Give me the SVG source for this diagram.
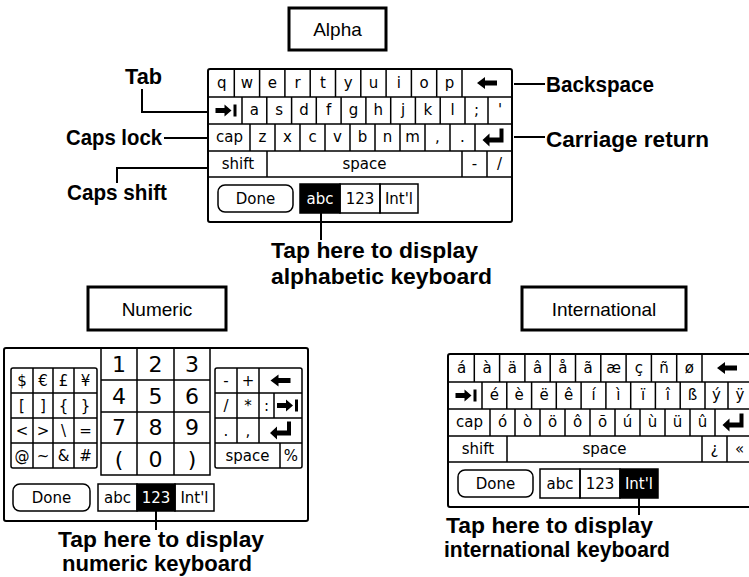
<svg xmlns="http://www.w3.org/2000/svg" width="749" height="577" viewBox="0 0 749 577">
<style>
.bg{fill:#fff}
.frame{fill:#fff;stroke:#000;stroke-width:2}
.k{fill:none;stroke:#000;stroke-width:1.5}
.box{fill:#fff;stroke:#000;stroke-width:3}
.t{font-family:"DejaVu Sans",sans-serif;font-size:15px;text-anchor:middle;fill:#000}
.d{font-family:"DejaVu Sans",sans-serif;font-size:22px;text-anchor:middle;fill:#000}
.w{fill:#fff}
.lb{font-family:"Liberation Sans",Arial,sans-serif;font-weight:bold;font-size:22px;fill:#000}
.ttl{font-family:"Liberation Sans",Arial,sans-serif;font-size:19px;text-anchor:middle;fill:#000}
.ln{fill:none;stroke:#000;stroke-width:2}
.blk{fill:#000;stroke:#000;stroke-width:1.5}
.btn{fill:#fff;stroke:#000;stroke-width:1.5}
</style>
<defs>
<path id="bs" d="M-10,0 L-2,-6 L-2,-2.5 L10,-2.5 L10,2.5 L-2,2.5 L-2,6 Z"/>
<g id="tab"><path d="M-10,-2.5 L-1,-2.5 L-1,-6 L6,0 L-1,6 L-1,2.5 L-10,2.5 Z"/><rect x="8" y="-6" width="3" height="12"/></g>
<path id="ret" d="M-11,2.5 L-4,-4 L-4,0 L6,0 L6,-9 L10,-9 L10,5 L-4,5 L-4,9 Z"/>
</defs>
<rect class="bg" x="0" y="0" width="749" height="577"/>

<g id="title-alpha"><rect class="box" x="289" y="8" width="97" height="42"/><text class="ttl" x="337.5" y="36">Alpha</text></g>
<g id="title-numeric"><rect class="box" x="88" y="287" width="138" height="43"/><text class="ttl" x="157" y="316">Numeric</text></g>
<g id="title-international"><rect class="box" x="522" y="287" width="164" height="43"/><text class="ttl" x="604" y="316">International</text></g>

<g id="kb-alpha">
<rect class="frame" x="208" y="69" width="304" height="153" rx="2"/>
<path class="k" d="M208,97H512M208,124H512M208,151H512M208,177H512
M234.3,69V97M259.6,69V97M284.9,69V97M310.2,69V97M335.5,69V97M360.8,69V97M386.1,69V97M411.4,69V97M436.7,69V97M462,69V97
M242,97V124M266.8,97V124M291.6,97V124M316.3,97V124M341.1,97V124M365.9,97V124M390.7,97V124M415.4,97V124M440.2,97V124M465,97V124M488,97V124
M250,124V151M275,124V151M300,124V151M325,124V151M350,124V151M375,124V151M400,124V151M425,124V151M450,124V151M475,124V151
M267,151V177M462,151V177M487,151V177"/>
<g class="t">
<text x="221.7" y="87.5">q</text><text x="247" y="87.5">w</text><text x="272.3" y="87.5">e</text><text x="297.6" y="87.5">r</text><text x="322.9" y="87.5">t</text><text x="348.2" y="87.5">y</text><text x="373.5" y="87.5">u</text><text x="398.8" y="87.5">i</text><text x="424" y="87.5">o</text><text x="449.4" y="87.5">p</text>
<text x="254.4" y="115">a</text><text x="279.2" y="115">s</text><text x="304" y="115">d</text><text x="328.7" y="115">f</text><text x="353.5" y="115">g</text><text x="378.3" y="115">h</text><text x="403" y="115">j</text><text x="427.8" y="115">k</text><text x="452.6" y="115">l</text><text x="476.5" y="115">;</text><text x="500" y="115">'</text>
<text x="229.5" y="142">cap</text><text x="262.5" y="142">z</text><text x="287.5" y="142">x</text><text x="312.5" y="142">c</text><text x="337.5" y="142">v</text><text x="362.5" y="142">b</text><text x="387.5" y="142">n</text><text x="412.5" y="142">m</text><text x="437.5" y="142">,</text><text x="462.5" y="142">.</text>
<text x="238" y="168.5">shift</text><text x="364.5" y="168.5">space</text><text x="474.5" y="168.5">-</text><text x="499.5" y="168.5">/</text>
</g>
<use href="#bs" x="487" y="83"/>
<use href="#tab" x="225.5" y="110.5"/>
<use href="#ret" x="493.5" y="137.5"/>
<rect class="btn" x="218" y="185" width="75" height="27" rx="7"/>
<text class="t" x="255.5" y="203.5">Done</text>
<rect class="blk" x="300" y="184" width="40" height="29"/>
<rect class="k" x="340" y="184" width="40" height="29"/>
<rect class="k" x="380" y="184" width="38" height="29"/>
<text class="t w" x="320" y="203.5">abc</text><text class="t" x="360" y="203.5">123</text><text class="t" x="399" y="203.5">Int'l</text>
</g>

<g id="kb-numeric">
<rect class="frame" x="4" y="348" width="304" height="173" rx="2"/>
<rect class="k" x="11" y="368" width="86" height="100" rx="2"/>
<path class="k" d="M33,368V468M53,368V468M74,368V468M11,393H97M11,418H97M11,443H97"/>
<rect class="k" x="101" y="348" width="109" height="127"/>
<path class="k" d="M137,348V475M174,348V475M101,380H210M101,412H210M101,443H210"/>
<rect class="k" x="215" y="368" width="87" height="100" rx="2"/>
<path class="k" d="M215,393H302M215,418H302M215,443H302M237,368V443M259,368V443M274,393V418M280,443V468"/>
<g class="t">
<text x="22" y="386">$</text><text x="43" y="386">€</text><text x="63.5" y="386">£</text><text x="85.5" y="386">¥</text>
<text x="22" y="411">[</text><text x="43" y="411">]</text><text x="63.5" y="411">{</text><text x="85.5" y="411">}</text>
<text x="22" y="436">&lt;</text><text x="43" y="436">&gt;</text><text x="63.5" y="436">\</text><text x="85.5" y="436">=</text>
<text x="22" y="461">@</text><text x="43" y="461">~</text><text x="63.5" y="461">&amp;</text><text x="85.5" y="461">#</text>
<text x="226" y="386">-</text><text x="248" y="386">+</text>
<text x="226" y="411">/</text><text x="248" y="411">*</text><text x="266.5" y="411">:</text>
<text x="226" y="436">.</text><text x="248" y="436">,</text>
<text x="247.5" y="461">space</text><text x="291" y="461">%</text>
</g>
<use href="#bs" x="280.5" y="380.5"/>
<use href="#tab" x="287" y="405.5"/>
<use href="#ret" x="281" y="430.5"/>
<g class="d">
<text x="119" y="372">1</text><text x="155.5" y="372">2</text><text x="192" y="372">3</text>
<text x="119" y="404">4</text><text x="155.5" y="404">5</text><text x="192" y="404">6</text>
<text x="119" y="435">7</text><text x="155.5" y="435">8</text><text x="192" y="435">9</text>
<text x="119" y="467">(</text><text x="155.5" y="467">0</text><text x="192" y="467">)</text>
</g>
<rect class="btn" x="13" y="484" width="77" height="27" rx="7"/>
<text class="t" x="51.5" y="502.5">Done</text>
<rect class="k" x="98" y="484" width="39" height="27"/>
<rect class="blk" x="137" y="484" width="38" height="27"/>
<rect class="k" x="175" y="484" width="39" height="27"/>
<text class="t" x="117.5" y="502.5">abc</text><text class="t w" x="156" y="502.5">123</text><text class="t" x="194.5" y="502.5">Int'l</text>
</g>

<g id="kb-international" transform="translate(240,285)">
<rect class="frame" x="208" y="69" width="304" height="153" rx="2"/>
<path class="k" d="M208,97H512M208,124H512M208,151H512M208,177H512
M234.3,69V97M259.6,69V97M284.9,69V97M310.2,69V97M335.5,69V97M360.8,69V97M386.1,69V97M411.4,69V97M436.7,69V97M462,69V97
M242,97V124M266.8,97V124M291.6,97V124M316.3,97V124M341.1,97V124M365.9,97V124M390.7,97V124M415.4,97V124M440.2,97V124M465,97V124M488,97V124
M250,124V151M275,124V151M300,124V151M325,124V151M350,124V151M375,124V151M400,124V151M425,124V151M450,124V151M475,124V151
M267,151V177M462,151V177M487,151V177"/>
<g class="t">
<text x="221.7" y="87.5">á</text><text x="247" y="87.5">à</text><text x="272.3" y="87.5">ä</text><text x="297.6" y="87.5">â</text><text x="322.9" y="87.5">å</text><text x="348.2" y="87.5">ã</text><text x="373.5" y="87.5">æ</text><text x="398.8" y="87.5">ç</text><text x="424" y="87.5">ñ</text><text x="449.4" y="87.5">ø</text>
<text x="254.4" y="115">é</text><text x="279.2" y="115">è</text><text x="304" y="115">ë</text><text x="328.7" y="115">ê</text><text x="353.5" y="115">í</text><text x="378.3" y="115">ì</text><text x="403" y="115">ï</text><text x="427.8" y="115">î</text><text x="452.6" y="115">ß</text><text x="476.5" y="115">ý</text><text x="500" y="115">ÿ</text>
<text x="229.5" y="142">cap</text><text x="262.5" y="142">ó</text><text x="287.5" y="142">ò</text><text x="312.5" y="142">ö</text><text x="337.5" y="142">ô</text><text x="362.5" y="142">õ</text><text x="387.5" y="142">ú</text><text x="412.5" y="142">ù</text><text x="437.5" y="142">ü</text><text x="462.5" y="142">û</text>
<text x="238" y="168.5">shift</text><text x="364.5" y="168.5">space</text><text x="474.5" y="168.5">¿</text><text x="499.5" y="168.5">«</text>
</g>
<use href="#bs" x="487" y="83"/>
<use href="#tab" x="225.5" y="110.5"/>
<use href="#ret" x="493.5" y="137.5"/>
<rect class="btn" x="218" y="185" width="75" height="27" rx="7"/>
<text class="t" x="255.5" y="203.5">Done</text>
<rect class="k" x="300" y="184" width="40" height="29"/>
<rect class="k" x="340" y="184" width="40" height="29"/>
<rect class="blk" x="380" y="184" width="38" height="29"/>
<text class="t" x="320" y="203.5">abc</text><text class="t" x="360" y="203.5">123</text><text class="t w" x="399" y="203.5">Int'l</text>
</g>

<g id="connectors">
<path class="ln" d="M142,89V112H208"/>
<path class="ln" d="M164,138H208"/>
<path class="ln" d="M117,183V168H208"/>
<path class="ln" d="M514,84H545"/>
<path class="ln" d="M514,137H545"/>
<path class="ln" d="M321,213V240"/>
<path class="ln" d="M156,511V530"/>
<path class="ln" d="M639,498V515"/>
</g>

<g id="labels">
<text class="lb" x="125" y="84" textLength="37" lengthAdjust="spacingAndGlyphs">Tab</text>
<text class="lb" x="66" y="145" textLength="96" lengthAdjust="spacingAndGlyphs">Caps lock</text>
<text class="lb" x="67" y="200" textLength="100" lengthAdjust="spacingAndGlyphs">Caps shift</text>
<text class="lb" x="546" y="92" textLength="108" lengthAdjust="spacingAndGlyphs">Backspace</text>
<text class="lb" x="546" y="146.5" textLength="163" lengthAdjust="spacingAndGlyphs">Carriage return</text>
<text class="lb" x="271" y="258" textLength="207" lengthAdjust="spacingAndGlyphs">Tap here to display</text>
<text class="lb" x="271" y="284" textLength="221" lengthAdjust="spacingAndGlyphs">alphabetic keyboard</text>
<text class="lb" x="58" y="547" textLength="206" lengthAdjust="spacingAndGlyphs">Tap here to display</text>
<text class="lb" x="62" y="571" textLength="190" lengthAdjust="spacingAndGlyphs">numeric keyboard</text>
<text class="lb" x="446" y="533" textLength="207" lengthAdjust="spacingAndGlyphs">Tap here to display</text>
<text class="lb" x="444" y="557" textLength="226" lengthAdjust="spacingAndGlyphs">international keyboard</text>
</g>
</svg>
